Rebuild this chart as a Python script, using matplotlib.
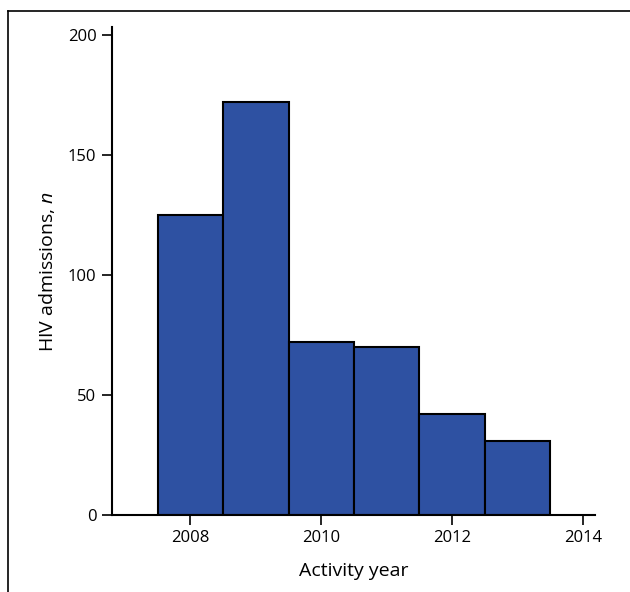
import matplotlib
matplotlib.use("Agg")
import matplotlib.pyplot as plt
from matplotlib.lines import Line2D

# data
years = [2008, 2009, 2010, 2011, 2012, 2013]
admissions = [125, 172, 72, 70, 42, 31]
xticks = [2008, 2010, 2012, 2014]
yticks = [0, 50, 100, 150, 200]

plt.rcParams['font.family'] = ['Open Sans', 'DejaVu Sans']
plt.rcParams['mathtext.fontset'] = 'custom'
plt.rcParams['mathtext.it'] = 'Open Sans:italic'
plt.rcParams['mathtext.rm'] = 'Open Sans'

fig = plt.figure(figsize=(6.3, 5.92), dpi=100)
ax = fig.add_axes([0.1773, 0.1301, 0.7671, 0.8243])

ax.bar(years, admissions, width=1.0, color='#2e51a2', edgecolor='black',
       linewidth=1.5, zorder=2)

ax.set_xlim(2006.8, 2014.18)
ax.set_ylim(0, 203.3)
ax.set_xticks(xticks)
ax.set_yticks(yticks)
ax.tick_params(axis='both', labelsize=12, length=7, width=1.2, color='black')
ax.tick_params(axis='y', pad=4)
ax.spines['top'].set_visible(False)
ax.spines['right'].set_visible(False)
ax.spines['left'].set_linewidth(1.5)
ax.spines['bottom'].set_linewidth(1.5)

ax.set_xlabel('Activity year', fontsize=14, labelpad=12)
ax.set_ylabel('HIV admissions, $\\mathit{n}$', fontsize=14, labelpad=8)

# frame lines (top and left) around the figure
fig.add_artist(Line2D([0.0127, 1.0], [0.9814, 0.9814], transform=fig.transFigure,
                      color='black', linewidth=1.2))
fig.add_artist(Line2D([0.0127, 0.0127], [0.0, 0.9814], transform=fig.transFigure,
                      color='black', linewidth=1.2))

fig.savefig('out.png', dpi=100)
